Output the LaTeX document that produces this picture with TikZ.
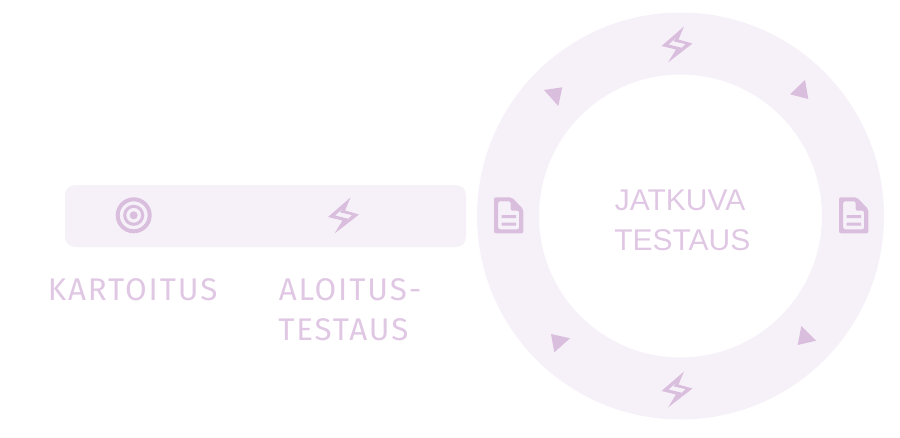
\documentclass[tikz,border=0pt]{standalone}
\usepackage{fontspec}
\setmainfont{Liberation Sans}
\newfontfamily\labfont[LetterSpace=6]{Fira Sans}
\newfontfamily\midfont{Liberation Sans}
\definecolor{pale}{HTML}{F6F1F8}
\definecolor{lilac}{HTML}{DABEDE}
\definecolor{lilactext}{HTML}{E0C8E4}
\tikzset{
  px/.style={x=0.75pt,y=-0.75pt},
  tri/.style={fill=lilac,draw=none},
  lab/.style={text=lilactext,font=\labfont\fontsize{23.5}{30}\selectfont,inner sep=0pt,align=left},
  mid/.style={text=lilactext,font=\midfont\fontsize{22.5}{30}\selectfont,inner sep=0pt,align=left}
}
\newcommand{\boltshape}[2]{%
  \fill[lilac,even odd rule,shift={(#1,#2)}]
    (7,-18) -- (-15.5,1.5) -- (-1,5) -- (-9,18) -- (15.5,-1) -- (1.5,-5) -- cycle
    (0.5,-8) -- (-8.5,0) -- (5.5,3.4) -- (-1,9) -- (8.5,-.4) -- (-3.5,-3.2) -- cycle;}
\newcommand{\docshape}[2]{%
  \fill[lilac,even odd rule,rounded corners=1.5pt,shift={(#1,#2)}]
    (-14.7,-18) -- (3,-18) -- (14.7,-6) -- (14.7,18) -- (-14.7,18) -- cycle
    (-10.5,-14) -- (2,-14) -- (2,-4.6) -- (10.5,-4.6) -- (10.5,14) -- (-10.5,14) -- cycle;
  \fill[lilac,shift={(#1,#2)}] (-7,-0.1) rectangle (7.3,2.9) (-7,7.2) rectangle (7.3,10.2);}
\begin{document}
\begin{tikzpicture}[px]
\useasboundingbox (0,0) rectangle (900,437);
\coordinate (c) at (680.5,216);
\fill[pale,even odd rule] (c) circle[radius=203.5] (c) circle[radius=141.5];
\fill[pale,rounded corners=7.5pt] (65,185) rectangle (466,247);
% target
\draw[lilac,line width=3pt] (133.7,215.3) circle[radius=16];
\draw[lilac,line width=2.3pt] (133.7,215.3) circle[radius=9];
\fill[lilac] (133.7,215.3) circle[radius=4];
\boltshape{343.5}{215.5}
\boltshape{677}{44.5}
\boltshape{677}{389.5}
\docshape{508.7}{215.3}
\docshape{853.7}{215.3}
\fill[tri] (544,90) -- (562.3,87.3) -- (558.3,106) -- cycle;
\fill[tri] (790,94.3) -- (805,80) -- (808.3,99) -- cycle;
\fill[tri] (801.3,326) -- (816,340.7) -- (797.7,345) -- cycle;
\fill[tri] (551,334) -- (570,338.3) -- (554.3,352.3) -- cycle;
\node[lab,anchor=base west] (kart) at (47.5,300) {KARTOITUS};
\node[lab,anchor=base west] (alo1) at (278.5,300) {ALOITUS-};
\node[lab,anchor=base west] (alo2) at (278,340) {TESTAUS};
\node[mid,anchor=base west] (jat) at (614.5,210) {JATKUVA};
\node[mid,anchor=base west] (tes) at (614,250) {TESTAUS};
\end{tikzpicture}
\end{document}
